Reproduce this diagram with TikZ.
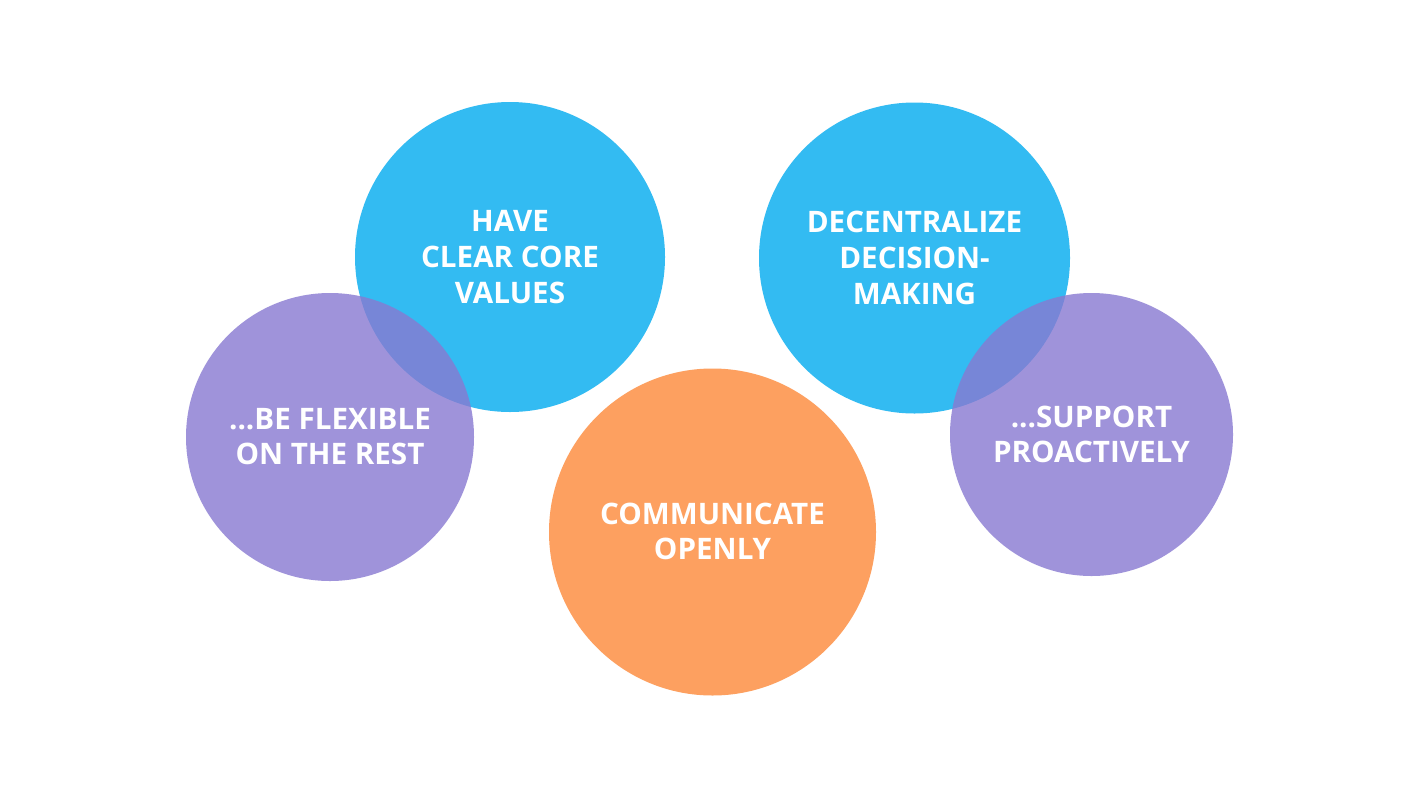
\documentclass[tikz,border=0pt]{standalone}
\usepackage{fontspec}
\setmainfont{Open Sans}
\definecolor{cblue}{HTML}{33BBF2}
\definecolor{cpurple}{HTML}{8879D1}
\definecolor{corange}{HTML}{FDA060}
\begin{document}
\begin{tikzpicture}[x=1pt,y=-1pt,
  bluec/.style={circle,fill=cblue,inner sep=0pt},
  purplec/.style={circle,fill=cpurple,fill opacity=0.8,inner sep=0pt},
  orangec/.style={circle,fill=corange,inner sep=0pt},
  lbl/.style={text=white,font=\fontsize{29.6}{35.8}\selectfont\bfseries,align=center}]
\useasboundingbox (0,0) rectangle (1420,798);
\fill[white] (0,0) rectangle (1420,798);
\node[bluec,minimum size=310pt] (c1) at (510,257) {};
\node[bluec,minimum size=311pt] (c2) at (914.5,258) {};
\node[purplec,minimum size=288pt] (c3) at (330,437) {};
\node[purplec,minimum size=283pt] (c4) at (1091.5,434.5) {};
\node[orangec,minimum size=327pt] (c5) at (712.5,532) {};
\node[lbl] (t1) at (510,257) {HAVE\\CLEAR CORE\\VALUES};
\node[lbl] (t2) at (914.5,258) {DECENTRALIZE\\DECISION-\\MAKING};
\node[lbl] (t3) at (330,436.5) {...BE FLEXIBLE\\ON THE REST};
\node[lbl] (t4) at (1091.5,434.5) {...SUPPORT\\PROACTIVELY};
\node[lbl] (t5) at (712.5,531.5) {COMMUNICATE\\OPENLY};
\end{tikzpicture}
\end{document}
